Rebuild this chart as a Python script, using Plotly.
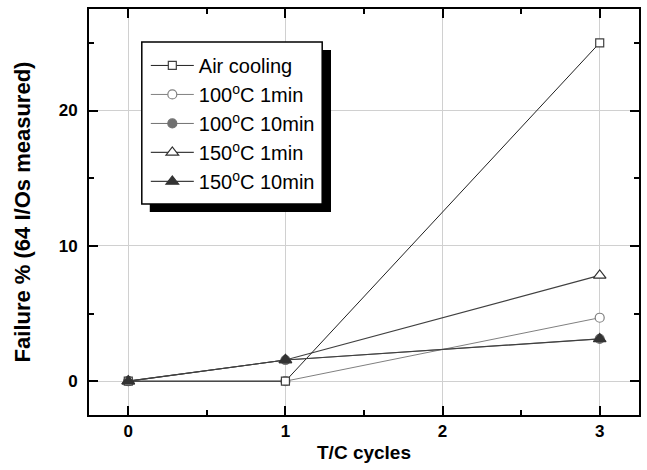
import plotly.graph_objects as go

cycles = [0, 1, 3]
air_cooling = [0, 0, 25.0]
c100_1min = [0, 0, 4.6875]
c100_10min = [0, 1.5625, 3.125]
c150_1min = [0, 1.5625, 7.8125]
c150_10min = [0, 1.5625, 3.125]

names = ["Air cooling", "100<sup>o</sup>C 1min", "100<sup>o</sup>C 10min",
         "150<sup>o</sup>C 1min", "150<sup>o</sup>C 10min"]

FONT = "Arial, Liberation Sans, sans-serif"
fig = go.Figure()

def add(y, name, rank, lcol, lw, sym, size, fill, edge):
    fig.add_trace(go.Scatter(
        x=cycles, y=y, name=name, mode="lines+markers", legendrank=rank,
        legendgroup=name,
        line=dict(color=lcol, width=lw),
        marker=dict(symbol=sym, size=size, color=fill, line=dict(color=edge, width=1.2)),
    ))

# draw order chosen so the overlapping markers look as in the reference
add(c100_1min, names[1], 2, "#808080", 1, "circle", 9, "white", "#808080")
add(c100_10min, names[2], 3, "#707070", 1, "circle", 9, "#707070", "#707070")
add(c150_1min, names[3], 4, "#404040", 1.2, "triangle-up", 11, "white", "#303030")
add(air_cooling, names[0], 1, "#202020", 1, "square", 8, "white", "#404040")
add(c150_10min, names[4], 5, "#404040", 1.2, "triangle-up", 11, "#333333", "#333333")

axis_common = dict(
    showline=True, linecolor="black", linewidth=2, mirror="ticks",
    ticks="inside", ticklen=9, tickwidth=2, tickcolor="black",
    showgrid=True, gridcolor="#d0d0d0", gridwidth=1, zeroline=False,
    tickfont=dict(family=FONT, size=17, color="black", weight="bold"),
)

fig.update_xaxes(
    range=[-0.25, 3.25], tickvals=[0, 1, 2, 3],
    title=dict(text="<b>T/C cycles</b>", font=dict(family=FONT, size=19, color="black"), standoff=5),
    minor=dict(tickvals=[0.5, 1.5, 2.5], ticks="inside", ticklen=5, tickwidth=2, tickcolor="black", showgrid=False),
    **axis_common,
)
fig.update_yaxes(
    range=[-2.5, 27.5], tickvals=[0, 10, 20],
    ticklabelstandoff=6,
    title=dict(text="<b>Failure % (64 I/Os measured)</b>", font=dict(family=FONT, size=22, color="black"), standoff=22),
    minor=dict(tickvals=[5, 15, 25], ticks="inside", ticklen=5, tickwidth=2, tickcolor="black", showgrid=False),
    **axis_common,
)

# legend frame: shadow and white box (decorative, paper coordinates)
fig.add_shape(type="rect", xref="paper", yref="paper", layer="above",
              x0=0.1105, x1=0.440, y0=0.5, y1=0.899,
              fillcolor="black", line=dict(width=0))
fig.add_shape(type="rect", xref="paper", yref="paper", layer="above",
              x0=0.096, x1=0.424, y0=0.520, y1=0.919,
              fillcolor="white", line=dict(color="black", width=1.5))

fig.update_layout(
    width=647, height=470,
    margin=dict(l=89, r=6, t=9, b=55),
    paper_bgcolor="white", plot_bgcolor="white",
    font=dict(family=FONT, color="black"),
    legend=dict(
        x=0.1033, y=0.909, xanchor="left", yanchor="top",
        bgcolor="rgba(0,0,0,0)", borderwidth=0,
        font=dict(family=FONT, size=20, color="black"),
        traceorder="grouped", tracegroupgap=0,
        itemwidth=43,
    ),
    showlegend=True,
)

fig.write_html("out.html")
